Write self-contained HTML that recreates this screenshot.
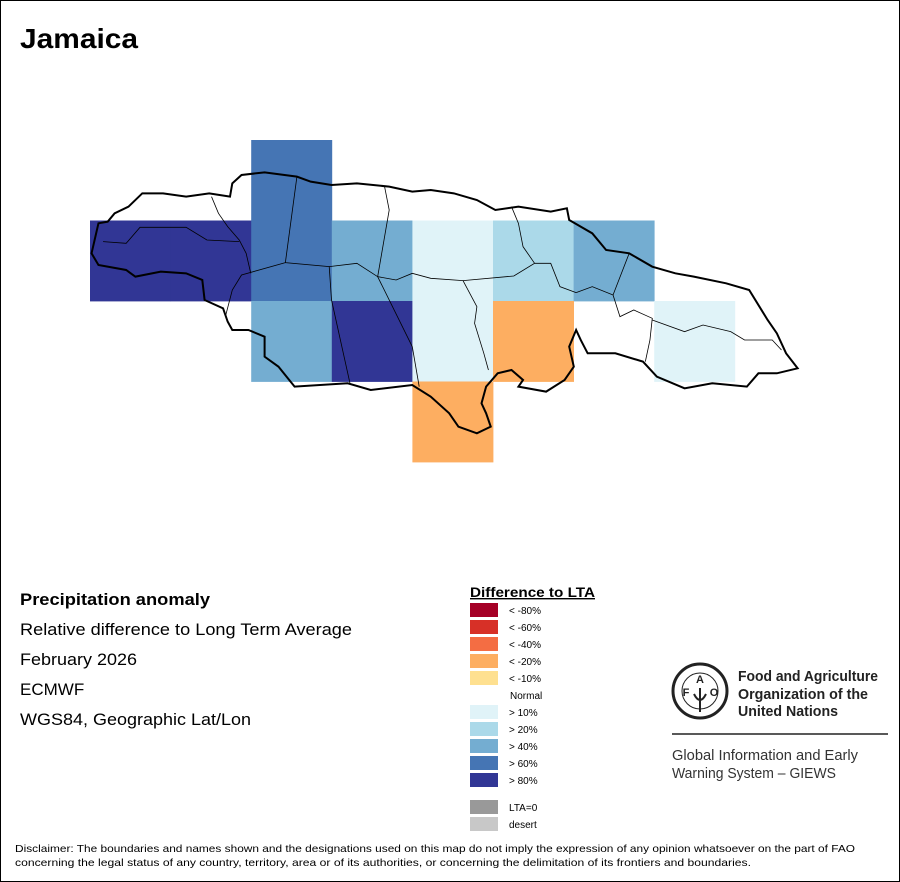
<!DOCTYPE html>
<html><head><meta charset="utf-8"><style>
html,body{margin:0;padding:0;background:#fff}
svg{display:block;font-family:"Liberation Sans",sans-serif}
</style></head><body>
<svg id="s" width="900" height="882" viewBox="0 0 900 882" xmlns="http://www.w3.org/2000/svg">
<rect x="0.5" y="0.5" width="899" height="881" fill="#fff" stroke="#000" stroke-width="1"/>
<text x="20" y="48" font-size="28" font-weight="bold" textLength="118" lengthAdjust="spacingAndGlyphs">Jamaica</text>
<g id="cells"></g>
<g transform="translate(80,140) scale(0.4615,0.3333)">
<path id="coast" fill="none" stroke="#000" stroke-width="2" vector-effect="non-scaling-stroke" d="M40,250 L25,340 40,375 100,390 120,410 175,395 230,400 265,420 270,480 310,505 320,545 330,570 365,570 400,590 400,650 430,680 465,740 580,730 630,750 720,735 760,770 800,820 820,860 860,880 890,860 880,820 870,790 880,740 905,700 935,690 960,720 950,740 1010,755 1050,720 1070,680 1060,620 1075,570 1085,600 1100,640 1160,640 1220,665 1250,710 1310,745 1370,730 1445,740 1470,700 1510,700 1555,685 1530,640 1510,580 1490,540 1450,450 1400,430 1330,410 1290,400 1240,380 1190,340 1140,330 1110,280 1060,240 1055,205 1020,215 950,200 900,210 860,180 810,160 760,150 720,155 670,140 600,130 545,135 500,125 470,110 400,97 350,105 330,130 325,170 280,160 230,170 180,160 135,160 105,200 75,220 60,245 Z"/>
<g fill="none" stroke="#000" stroke-width="0.8" vector-effect="non-scaling-stroke">
<path vector-effect="non-scaling-stroke" d="M285,170 L300,220 320,260 345,300 360,340 370,400"/>
<path vector-effect="non-scaling-stroke" d="M50,305 L100,310 130,262 230,262 275,300 345,305"/>
<path vector-effect="non-scaling-stroke" d="M470,110 L445,368 540,380 545,480 585,730"/>
<path vector-effect="non-scaling-stroke" d="M445,368 L350,405 330,450 315,530"/>
<path vector-effect="non-scaling-stroke" d="M540,380 L600,370 645,410 685,420 720,400 760,415 830,422 940,408 985,370 1020,370 1040,440 1075,458"/>
<path vector-effect="non-scaling-stroke" d="M660,140 L670,210 645,410 720,620 735,740"/>
<path vector-effect="non-scaling-stroke" d="M830,422 L860,500 855,550 875,640 885,690"/>
<path vector-effect="non-scaling-stroke" d="M935,200 L950,250 960,320 985,370"/>
<path vector-effect="non-scaling-stroke" d="M1075,458 L1110,440 1155,465 1190,340"/>
<path vector-effect="non-scaling-stroke" d="M1155,465 L1170,530 1200,510 1240,535 1235,600 1225,665"/>
<path vector-effect="non-scaling-stroke" d="M1240,540 L1310,575 1350,555 1410,575 1440,600 1500,600 1520,630"/>
</g>
</g>
<g>
<text x="20" y="605" font-size="17" font-weight="bold" textLength="190" lengthAdjust="spacingAndGlyphs">Precipitation anomaly</text>
<text x="20" y="635" font-size="17" textLength="332" lengthAdjust="spacingAndGlyphs">Relative difference to Long Term Average</text>
<text x="20" y="665" font-size="17" textLength="117" lengthAdjust="spacingAndGlyphs">February 2026</text>
<text x="20" y="695" font-size="17">ECMWF</text>
<text x="20" y="725" font-size="17" textLength="231" lengthAdjust="spacingAndGlyphs">WGS84, Geographic Lat/Lon</text>
</g>
<g id="legend">
<text x="470" y="597" font-size="14" font-weight="bold" text-decoration="underline" textLength="125" lengthAdjust="spacingAndGlyphs">Difference to LTA</text>
</g>
<g>
<circle cx="700" cy="691" r="27" fill="none" stroke="#222" stroke-width="3"/>
<circle cx="700" cy="691" r="18" fill="none" stroke="#222" stroke-width="1"/>
<text x="700" y="683" font-size="11" font-weight="bold" text-anchor="middle" fill="#222">A</text>
<text x="686" y="696" font-size="11" font-weight="bold" text-anchor="middle" fill="#222">F</text>
<text x="714" y="696" font-size="11" font-weight="bold" text-anchor="middle" fill="#222">O</text>
<path d="M700,688 L700,712 M694,694 Q700,706 706,694" stroke="#222" stroke-width="2" fill="none"/>
<text x="738" y="681" font-size="15" font-weight="bold" fill="#222" textLength="140" lengthAdjust="spacingAndGlyphs">Food and Agriculture</text>
<text x="738" y="699" font-size="15" font-weight="bold" fill="#222" textLength="130" lengthAdjust="spacingAndGlyphs">Organization of the</text>
<text x="738" y="716" font-size="15" font-weight="bold" fill="#222" textLength="100" lengthAdjust="spacingAndGlyphs">United Nations</text>
<line x1="672" y1="734" x2="888" y2="734" stroke="#222" stroke-width="1.5"/>
<text x="672" y="760" font-size="14.5" fill="#333" textLength="186" lengthAdjust="spacingAndGlyphs">Global Information and Early</text>
<text x="672" y="778" font-size="14.5" fill="#333" textLength="164" lengthAdjust="spacingAndGlyphs">Warning System – GIEWS</text>
</g>
<text x="15" y="852" font-size="10.5" textLength="840" lengthAdjust="spacingAndGlyphs">Disclaimer: The boundaries and names shown and the designations used on this map do not imply the expression of any opinion whatsoever on the part of FAO</text>
<text x="15" y="866" font-size="10.5" textLength="736" lengthAdjust="spacingAndGlyphs">concerning the legal status of any country, territory, area or of its authorities, or concerning the delimitation of its frontiers and boundaries.</text>
</svg>
<script>
// grid data: column index, row index, class
const cellCols = [2, 0, 1, 2, 3, 4, 5, 6, 2, 3, 4, 5, 7, 4];
const cellRows = [0, 1, 1, 1, 1, 1, 1, 1, 2, 2, 2, 2, 2, 3];
const cellClasses = ['>60','>80','>80','>60','>40','>10','>20','>40','>40','>80','>10','<-20','>10','<-20'];
const legendLabels = ['< -80%','< -60%','< -40%','< -20%','< -10%','Normal','> 10%','> 20%','> 40%','> 60%','> 80%','LTA=0','desert'];
const legendColors = ['#a50026','#d73027','#f46d43','#fdae61','#fee090',null,'#e0f3f8','#abd9e9','#74add1','#4575b4','#313695','#999999','#c8c8c8'];
const classColor = {'<-80':'#a50026','<-60':'#d73027','<-40':'#f46d43','<-20':'#fdae61','<-10':'#fee090','>10':'#e0f3f8','>20':'#abd9e9','>40':'#74add1','>60':'#4575b4','>80':'#313695'};
const NS='http://www.w3.org/2000/svg';
const x0=90, y0=140, cw=80.6, ch=80.5;
const xCol=c=>x0+c*cw, yRow=r=>y0+r*ch;
const g=document.getElementById('cells');
for(let i=0;i<cellCols.length;i++){
  const r=document.createElementNS(NS,'rect');
  r.setAttribute('x',xCol(cellCols[i]));r.setAttribute('y',yRow(cellRows[i]));
  r.setAttribute('width',cw+0.4);r.setAttribute('height',ch+0.4);
  r.setAttribute('fill',classColor[cellClasses[i]]);
  
  
  g.appendChild(r);
}
const lg=document.getElementById('legend');
for(let i=0;i<legendLabels.length;i++){
  const y=603+i*17+(i>=11?10:0);
  if(legendColors[i]){
    const r=document.createElementNS(NS,'rect');
    r.setAttribute('x',470);r.setAttribute('y',y);r.setAttribute('width',28);r.setAttribute('height',14);
    r.setAttribute('fill',legendColors[i]);
    
    
    lg.appendChild(r);
  }
  const t=document.createElementNS(NS,'text');
  t.setAttribute('x',legendLabels[i]==='Normal'?510:509);t.setAttribute('y',y+11);
  t.setAttribute('font-size','10');
  t.textContent=legendLabels[i];
  
  
  lg.appendChild(t);
}
</script>
</body></html>
